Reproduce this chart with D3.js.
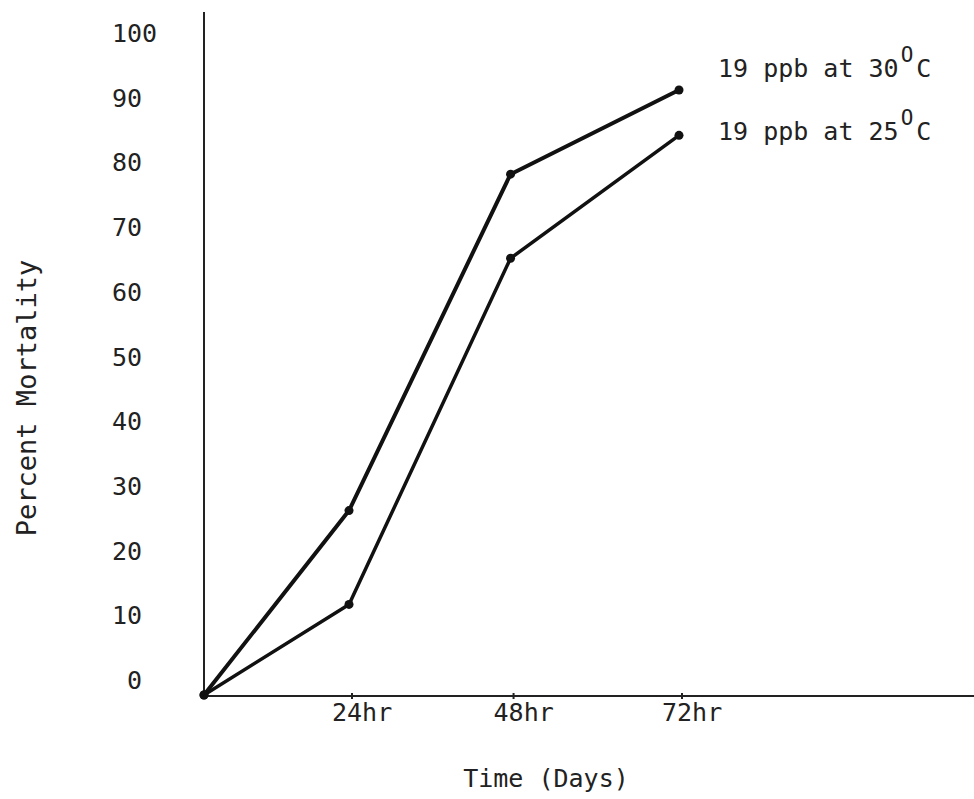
<!DOCTYPE html>
<html>
<head>
<meta charset="utf-8">
<script src="https://cdn.jsdelivr.net/npm/d3@7"></script>
<style>
  html, body { margin: 0; padding: 0; background: #fff; }
  text { font-family: 'DejaVu Sans Mono', monospace; fill: #222; white-space: pre; }
</style>
</head>
<body>
<div id="chart"></div>
<script>
// data
const hours = [0, 24, 48, 72];
const hourLabels = ['', '24hr', '48hr', '72hr'];
const yTicks = [0, 10, 20, 30, 40, 50, 60, 70, 80, 90, 100];
const seriesNames = ['19 ppb at 30', '19 ppb at 25'];
const mortality30 = [0, 28.5, 80.5, 93.5];
const mortality25 = [0, 14, 67.5, 86.5];

const width = 974, height = 799;

const svg = d3.select('#chart')
  .append('svg')
  .attr('width', width)
  .attr('height', height);

// hand drawn paper: the hour spacing widens a little to the right
const x = d3.scalePow().exponent(1.08).domain([0, 72]).range([204, 679]);
const y = d3.scaleLinear().domain([0, 100]).range([695, 48]);

// axes
svg.append('line')
  .attr('x1', 204).attr('x2', 204)
  .attr('y1', 12).attr('y2', 696)
  .attr('stroke', '#222').attr('stroke-width', 2);

svg.append('line')
  .attr('x1', 203).attr('x2', 974)
  .attr('y1', 696).attr('y2', 696)
  .attr('stroke', '#222').attr('stroke-width', 2);

// y tick labels, typewritten, sit a bit above their value
const pad = d3.format('2d');
svg.append('g')
  .selectAll('text')
  .data(yTicks)
  .enter()
  .append('text')
  .attr('x', 112)
  .attr('y', d => y(d) - 15)
  .attr('dy', '0.36em')
  .attr('font-size', 25)
  .text(d => pad(d));

// x ticks + labels
const xt = svg.append('g')
  .selectAll('g')
  .data(hours.slice(1))
  .enter()
  .append('g')
  .attr('transform', d => 'translate(' + (x(d) + 3) + ',696)');

xt.append('line')
  .attr('y1', -3).attr('y2', 3)
  .attr('stroke', '#222').attr('stroke-width', 2);

xt.append('text')
  .attr('x', -20)
  .attr('y', 16)
  .attr('dy', '0.36em')
  .attr('font-size', 25)
  .text((d, i) => hourLabels[i + 1]);

// series lines
const line = d3.line()
  .x((d, i) => x(hours[i]))
  .y(d => y(d));

[[mortality30, 4], [mortality25, 3.5]].forEach(([vals, w]) => {
  svg.append('path')
    .datum(vals)
    .attr('fill', 'none')
    .attr('stroke', '#111')
    .attr('stroke-width', w)
    .attr('stroke-linejoin', 'round')
    .attr('d', line);

  svg.append('g')
    .selectAll('circle')
    .data(vals)
    .enter()
    .append('circle')
    .attr('cx', (d, i) => x(hours[i]))
    .attr('cy', d => y(d))
    .attr('r', 4.5)
    .attr('fill', '#111');
});

// labels at the line ends, with the raised degree "O"
seriesNames.forEach((name, i) => {
  const t = svg.append('text')
    .attr('x', 718)
    .attr('y', 77 + i * 63)
    .attr('font-size', 25)
    .text(name);
  t.append('tspan')
    .attr('font-size', 21)
    .attr('dx', 2)
    .attr('dy', -15)
    .text('O');
  t.append('tspan')
    .attr('dx', 3)
    .attr('dy', 15)
    .text('C');
});

// axis titles
svg.append('text')
  .attr('transform', 'translate(26,398) rotate(-90)')
  .attr('text-anchor', 'middle')
  .attr('dy', '0.36em')
  .attr('font-size', 27)
  .text('Percent Mortality');

svg.append('text')
  .attr('x', 546)
  .attr('y', 778)
  .attr('text-anchor', 'middle')
  .attr('dy', '0.36em')
  .attr('font-size', 25)
  .text('Time (Days)');
</script>
</body>
</html>
